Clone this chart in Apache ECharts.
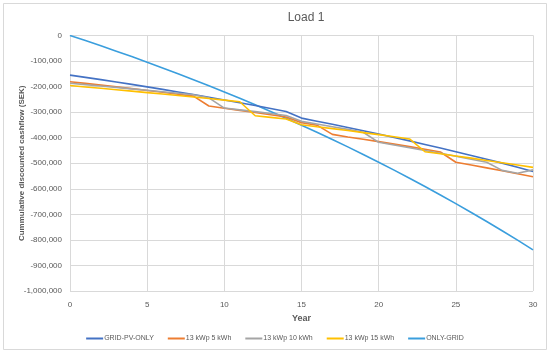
<!DOCTYPE html>
<html>
<head>
<meta charset="utf-8">
<script src="https://cdn.jsdelivr.net/npm/echarts@6/dist/echarts.min.js"></script>
<style>
html,body{margin:0;padding:0;background:#fff;}
#c{width:550px;height:354px;}
</style>
</head>
<body>
<div id="c"></div>
<script>
var years = [0,1,2,3,4,5,6,7,8,9,10,11,12,13,14,15,16,17,18,19,20,21,22,23,24,25,26,27,28,29,30];
var seriesNames = ['GRID-PV-ONLY','13 kWp 5 kWh','13 kWp 10 kWh','13 kWp 15 kWh','ONLY-GRID'];
var gridPvOnly = [-155000,-163800,-172800,-182000,-191400,-201000,-210800,-220800,-231000,-241500,-252200,-263100,-274300,-285700,-297400,-323300,-335300,-347500,-360000,-372800,-385800,-399000,-412500,-426300,-440400,-454700,-469300,-484200,-499500,-515800,-532000];
var kwh5 = [-181000,-187500,-194200,-201000,-208000,-215000,-222300,-229700,-237300,-276000,-284500,-293000,-301500,-310200,-319000,-341000,-351000,-387000,-397000,-406000,-415500,-425000,-435000,-445000,-456000,-496000,-507000,-518000,-529500,-541000,-553000];
var kwh10 = [-187000,-192300,-197700,-203200,-208800,-214500,-220300,-226200,-232200,-244000,-284000,-291000,-298000,-305500,-313000,-336000,-346500,-357000,-367500,-378500,-418000,-428500,-439000,-450000,-461000,-472500,-484000,-496000,-528000,-539000,-526000];
var kwh15 = [-196000,-201300,-206700,-212200,-217800,-223400,-229100,-234900,-240800,-246800,-253000,-259300,-314000,-320500,-327000,-349000,-357000,-364500,-372000,-380000,-388000,-396500,-405000,-455000,-463000,-471500,-480000,-489000,-498000,-507000,-516000];
var onlyGrid = [0,-20000,-40400,-61300,-82600,-104500,-126800,-149600,-172900,-196700,-221000,-245900,-271300,-297300,-323800,-351000,-378700,-407100,-436000,-465600,-496000,-527000,-558700,-591100,-624200,-658000,-692600,-728000,-764100,-801100,-838900];
var colors = ['#4472C4','#ED7D31','#A5A5A5','#FFC000','#3A9EDD'];
var valueSets = [gridPvOnly,kwh5,kwh10,kwh15,onlyGrid];

function pairs(v){ return years.map(function(y,i){ return [y, v[i]]; }); }

var chart = echarts.init(document.getElementById('c'), null, {renderer:'canvas'});
var font = 'Liberation Sans';
chart.setOption({
  animation:false,
  backgroundColor:'#fff',
  color: colors,
  graphic:[{type:'rect',shape:{x:3.5,y:3.5,width:543,height:346},style:{fill:'none',stroke:'#D9D9D9',lineWidth:1},silent:true,z:-1}],
  title:{text:'Load 1',left:301,top:7,textAlign:'center',textStyle:{fontFamily:font,fontSize:12,fontWeight:'normal',color:'#595959'}},
  grid:{left:70,right:17,top:35.5,bottom:63,containLabel:false,outerBoundsMode:'none'},
  legend:{
    bottom:7,left:'center',
    data: seriesNames.map(function(n){return {name:n,icon:'rect'};}),
    itemWidth:17,itemHeight:2,itemGap:14,
    textStyle:{fontFamily:font,fontSize:7,color:'#595959',padding:[0,0,0,-4]}
  },
  xAxis:{
    type:'value',min:0,max:30,interval:5,
    name:'Year',nameLocation:'middle',nameGap:23,
    nameTextStyle:{fontFamily:font,fontSize:9,fontWeight:'bold',color:'#595959'},
    axisLine:{show:true,lineStyle:{color:'#D9D9D9'}},
    axisTick:{show:false},
    axisLabel:{fontFamily:font,fontSize:8,color:'#595959',margin:10},
    splitLine:{show:true,lineStyle:{color:'#D9D9D9'}}
  },
  yAxis:{
    type:'value',min:-1000000,max:0,interval:100000,
    name:'Cummulative discounted cashflow (SEK)',nameLocation:'middle',nameGap:44,nameMoveOverlap:false,
    nameTextStyle:{fontFamily:font,fontSize:8,fontWeight:'bold',color:'#595959'},
    axisLine:{show:true,lineStyle:{color:'#D9D9D9'}},
    axisTick:{show:false},
    axisLabel:{fontFamily:font,fontSize:8,color:'#595959',margin:8,
      formatter:function(v){ return v.toLocaleString('en-US'); }},
    splitLine:{show:true,lineStyle:{color:'#D9D9D9'}}
  },
  series: seriesNames.map(function(n,i){
    return {name:n,type:'line',data:pairs(valueSets[i]),symbol:'none',
      lineStyle:{width:1.6,color:colors[i]},itemStyle:{color:colors[i]},z:i===4?1:2};
  })
});
</script>
</body>
</html>
